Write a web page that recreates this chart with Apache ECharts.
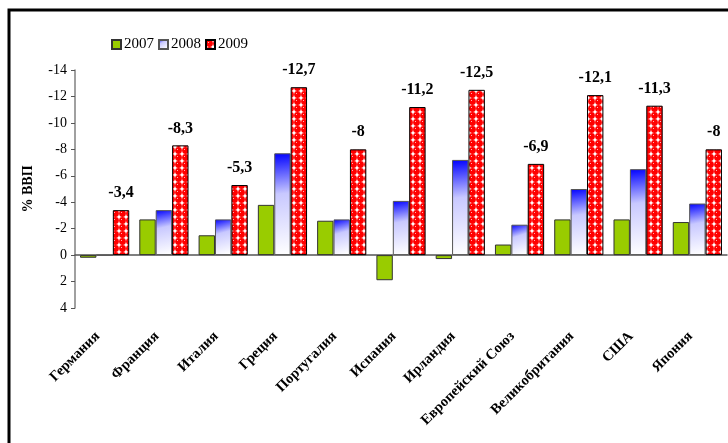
<!DOCTYPE html>
<html>
<head>
<meta charset="utf-8">
<script src="https://cdn.jsdelivr.net/npm/echarts@6/dist/echarts.min.js"></script>
<style>
  html, body { margin: 0; padding: 0; background: #fff; }
  #echarts { width: 728px; height: 443px; }
</style>
</head>
<body>
<div id="echarts"></div>
<script>
const countries = ['Германия', 'Франция', 'Италия', 'Греция', 'Португалия', 'Испания',
    'Ирландия', 'Европейский Союз', 'Великобритания', 'США', 'Япония'];
const years = ['2007', '2008', '2009'];
const values2007 = [0.2, -2.7, -1.5, -3.8, -2.6, 1.9, 0.3, -0.8, -2.7, -2.7, -2.5];
const values2008 = [0, -3.4, -2.7, -7.7, -2.7, -4.1, -7.2, -2.3, -5.0, -6.5, -3.9];
const values2009 = [-3.4, -8.3, -5.3, -12.7, -8, -11.2, -12.5, -6.9, -12.1, -11.3, -8];
const yTicks = { min: -14, max: 4, step: 2 };

const serif = 'Liberation Serif';

// узор для 2009 года: красные шарики
function makePattern() {
    const c = document.createElement('canvas');
    c.width = 7;
    c.height = 7;
    const ctx = c.getContext('2d');
    ctx.fillStyle = '#ffffff';
    ctx.fillRect(0, 0, 7, 7);
    ctx.fillStyle = '#ff0000';
    ctx.beginPath();
    ctx.arc(3.5, 3.5, 3.4, 0, Math.PI * 2);
    ctx.fill();
    ctx.fillStyle = '#ffb0b0';
    ctx.fillRect(2, 2, 1, 1);
    return c;
}

const chartDom = document.getElementById('echarts');
const myChart = echarts.init(chartDom);

const option = {
    animation: false,
    textStyle: { fontFamily: serif },
    graphic: [{
        type: 'rect',
        shape: { x: 9, y: 10, width: 1000, height: 1000 },
        style: { fill: 'none', stroke: '#000', lineWidth: 3 },
        silent: true
    }],
    legend: {
        left: 106,
        top: 32,
        icon: 'rect',
        itemWidth: 9,
        itemHeight: 9,
        itemGap: 4,
        textStyle: { fontFamily: serif, fontSize: 15, color: '#000', padding: [0, 0, 0, -2] },
        data: years
    },
    grid: {
        left: 75,
        right: 1,
        top: 70,
        bottom: 135,
        containLabel: false
    },
    xAxis: [
        {
            type: 'category',
            data: countries,
            axisLine: { onZero: true, lineStyle: { color: '#555', width: 1.5 } },
            axisTick: { inside: true, length: 4, lineStyle: { color: '#333' } },
            axisLabel: { show: false }
        },
        {
            type: 'category',
            data: countries,
            position: 'bottom',
            axisLine: { show: false, onZero: false },
            axisTick: { show: false },
            axisLabel: {
                rotate: 45,
                margin: 19,
                interval: 0,
                padding: [0, 10, 0, 0],
                fontFamily: serif,
                fontSize: 14.5,
                fontWeight: 'bold',
                color: '#000'
            }
        }
    ],
    yAxis: {
        type: 'value',
        inverse: true,
        min: yTicks.min,
        max: yTicks.max,
        interval: yTicks.step,
        name: '% ВВП',
        nameLocation: 'middle',
        nameRotate: 90,
        nameGap: 40,
        nameTextStyle: { fontFamily: serif, fontSize: 14, fontWeight: 'bold', color: '#000' },
        axisLine: { show: true, lineStyle: { color: '#808080', width: 1.5 } },
        axisTick: { show: true, length: 4, lineStyle: { color: '#555' } },
        axisLabel: { fontFamily: serif, fontSize: 14, color: '#000', margin: 8 },
        splitLine: { show: false }
    },
    series: [
        {
            name: '2007',
            type: 'bar',
            data: values2007,
            barGap: '0%',
            barCategoryGap: '17%',
            itemStyle: { color: '#99cc00', borderColor: '#333', borderWidth: 1 }
        },
        {
            name: '2008',
            type: 'bar',
            data: values2008,
            barGap: '0%',
            barCategoryGap: '17%',
            itemStyle: {
                color: new echarts.graphic.LinearGradient(0, 0, 0.6, 1, [
                    { offset: 0, color: '#0000ff' },
                    { offset: 0.4, color: '#c8c8ff' },
                    { offset: 1, color: '#ffffff' }
                ]),
                borderColor: '#555',
                borderWidth: 1
            }
        },
        {
            name: '2009',
            type: 'bar',
            data: values2009,
            barGap: '0%',
            barCategoryGap: '17%',
            itemStyle: {
                color: { image: makePattern(), repeat: 'repeat' },
                borderColor: '#000',
                borderWidth: 1
            },
            label: {
                show: true,
                position: 'top',
                distance: 9,
                fontFamily: serif,
                fontSize: 16,
                fontWeight: 'bold',
                color: '#000',
                formatter: (params) => String(params.value).replace('.', ',')
            }
        }
    ]
};
option && myChart.setOption(option);
</script>
</body>
</html>
